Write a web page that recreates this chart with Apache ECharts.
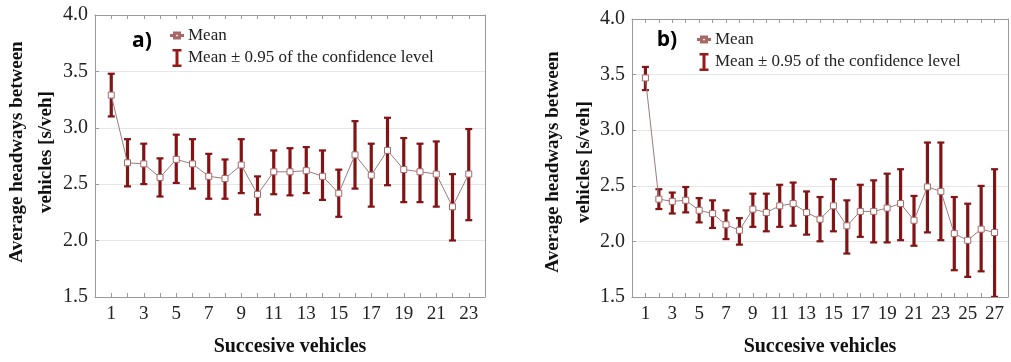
<!DOCTYPE html>
<html>
<head>
<meta charset="utf-8">
<script src="https://cdn.jsdelivr.net/npm/echarts@6/dist/echarts.min.js"></script>
<style>
html,body{margin:0;padding:0;background:#fff;}
#chart{width:1011px;height:362px;}
</style>
</head>
<body>
<div id="chart"></div>
<script>
// ---- Data ----
const vehiclesA = [1,2,3,4,5,6,7,8,9,10,11,12,13,14,15,16,17,18,19,20,21,22,23];
const meanA  = [3.29,2.69,2.68,2.56,2.72,2.68,2.57,2.55,2.67,2.41,2.61,2.61,2.62,2.57,2.42,2.76,2.58,2.80,2.63,2.61,2.59,2.30,2.59];
const upperA = [3.48,2.90,2.86,2.73,2.94,2.90,2.77,2.72,2.90,2.57,2.80,2.82,2.83,2.80,2.63,3.06,2.86,3.09,2.91,2.86,2.88,2.59,2.99];
const lowerA = [3.10,2.48,2.50,2.39,2.51,2.46,2.37,2.37,2.42,2.23,2.41,2.40,2.42,2.36,2.21,2.46,2.30,2.49,2.34,2.34,2.30,2.00,2.18];

const vehiclesB = [1,2,3,4,5,6,7,8,9,10,11,12,13,14,15,16,17,18,19,20,21,22,23,24,25,26,27];
const meanB  = [3.47,2.38,2.36,2.37,2.28,2.25,2.15,2.10,2.29,2.26,2.32,2.34,2.26,2.20,2.32,2.14,2.27,2.27,2.30,2.34,2.19,2.49,2.45,2.07,2.01,2.11,2.08];
const upperB = [3.57,2.47,2.44,2.49,2.39,2.37,2.28,2.21,2.43,2.43,2.51,2.53,2.45,2.40,2.56,2.37,2.51,2.55,2.61,2.65,2.41,2.89,2.89,2.40,2.34,2.50,2.65];
const lowerB = [3.36,2.29,2.25,2.26,2.17,2.12,2.02,1.97,2.13,2.09,2.13,2.14,2.06,2.00,2.09,1.89,2.04,1.99,1.99,2.01,1.96,2.08,2.01,1.74,1.68,1.73,1.50];

const xTickLabelsA = [1,3,5,7,9,11,13,15,17,19,21,23];
const xTickLabelsB = [1,3,5,7,9,11,13,15,17,19,21,23,25,27];
const yTickLabels = [1.5,2.0,2.5,3.0,3.5,4.0];

const titleY = 'Average headways between\nvehicles [s/veh]';
const titleX = 'Succesive vehicles';
const nameMean = 'Mean';
const nameCI = 'Mean \u00b1 0.95 of the confidence level';

// ---- Styles ----
const SERIF = 'Liberation Serif';
const AXIS_C = '#9a9a9a';
const GRID_C = '#e6e6e6';
const BAR_C = '#821416';
const LINE_C = '#9c7c7c';
const MARK_C = '#a86868';

const chart = echarts.init(document.getElementById('chart'), null, {renderer:'canvas'});

function errRender(params, api){
  const x = api.value(0), lo = api.value(1), hi = api.value(2);
  const p1 = api.coord([x, hi]);
  const p2 = api.coord([x, lo]);
  return {type:'group', children:[
    {type:'rect', shape:{x:p1[0]-1.6, y:p1[1], width:3.2, height:p2[1]-p1[1]}, style:{fill:BAR_C}},
    {type:'rect', shape:{x:p1[0]-3.5, y:p1[1]-1, width:7, height:2.2}, style:{fill:BAR_C}},
    {type:'rect', shape:{x:p2[0]-3.5, y:p2[1]-1.2, width:7, height:2.2}, style:{fill:BAR_C}}
  ]};
}

function bottomX(grid, max, ticks){
  return {
    type:'value', gridIndex:grid, min:0, max:max, interval:1, position:'bottom',
    name:titleX, nameLocation:'middle', nameGap:40,
    nameTextStyle:{fontFamily:SERIF, fontWeight:'bold', fontSize:20, color:'#111'},
    axisLine:{show:true, onZero:false, lineStyle:{color:AXIS_C, width:1}},
    axisTick:{show:true, inside:true, length:4, lineStyle:{color:AXIS_C}},
    axisLabel:{show:true, margin:8, fontFamily:SERIF, fontSize:19, color:'#222',
      showMinLabel:true, showMaxLabel:true,
      formatter:v => ticks.indexOf(v) >= 0 ? String(v) : ''},
    splitLine:{show:false}
  };
}
function topX(grid, max){
  return {
    type:'value', gridIndex:grid, min:0, max:max, interval:1, position:'top',
    axisLine:{show:true, onZero:false, lineStyle:{color:AXIS_C, width:1}},
    axisTick:{show:true, inside:true, length:4, lineStyle:{color:AXIS_C}},
    axisLabel:{show:false}, splitLine:{show:false}
  };
}
function leftY(grid){
  return {
    type:'value', gridIndex:grid, min:1.5, max:4.0, interval:0.5, position:'left',
    axisLine:{show:true, onZero:false, lineStyle:{color:AXIS_C, width:1}},
    axisTick:{show:true, inside:true, length:4, lineStyle:{color:AXIS_C}},
    axisLabel:{show:true, margin:7, fontFamily:SERIF, fontSize:20, color:'#222',
      formatter:v => yTickLabels.indexOf(v) >= 0 ? v.toFixed(1) : ''},
    splitLine:{show:true, lineStyle:{color:GRID_C, width:1}}
  };
}
function rightY(grid){
  return {
    type:'value', gridIndex:grid, min:1.5, max:4.0, interval:0.5, position:'right',
    axisLine:{show:true, onZero:false, lineStyle:{color:AXIS_C, width:1}},
    axisTick:{show:false}, axisLabel:{show:false}, splitLine:{show:false}
  };
}

const meanIcon = 'path://M0,4.4 H3 V5.6 H0 Z M3,2 H9 V8 H3 Z M4.2,3.2 V6.8 H7.8 V3.2 Z M9,4.4 H12 V5.6 H9 Z';
const errIcon  = 'path://M0,0 H9 V2.4 H6 V15.6 H9 V18 H0 V15.6 H3 V2.4 H0 Z';

function legendAt(left, top){
  return {
    left:left, top:top, orient:'vertical', itemGap:5, itemWidth:12, itemHeight:18,
    symbolKeepAspect:true, selectedMode:false,
    textStyle:{fontFamily:SERIF, fontSize:17, color:'#222'},
    data:[
      {name:nameMean, icon:meanIcon, itemStyle:{color:MARK_C}},
      {name:nameCI, icon:errIcon, itemStyle:{color:'#9a1a1c'}}
    ]
  };
}

const option = {
  animation:false,
  backgroundColor:'#fff',
  grid:[
    {left:95, top:15, width:390, height:285, containLabel:false},
    {left:632, top:19, width:385, height:282.5, containLabel:false}
  ],
  xAxis:[bottomX(0,24,xTickLabelsA), topX(0,24), bottomX(1,28,xTickLabelsB), topX(1,28)],
  yAxis:[leftY(0), rightY(0), leftY(1), rightY(1)],
  legend:[legendAt(165,22), legendAt(692,26)],
  graphic:[
    {type:'text', x:32, y:152, rotation:Math.PI/2,
      style:{text:titleY, fontFamily:SERIF, fontWeight:'bold', fontSize:19, lineHeight:29,
        fill:'#111', textAlign:'center', textVerticalAlign:'middle'}},
    {type:'text', x:569, y:162, rotation:Math.PI/2,
      style:{text:titleY, fontFamily:SERIF, fontWeight:'bold', fontSize:19, lineHeight:31,
        fill:'#111', textAlign:'center', textVerticalAlign:'middle'}},
    {type:'text', x:142, y:41,
      style:{text:'a)', fontFamily:'Open Sans', fontWeight:'bold', fontSize:21, fill:'#000',
        textAlign:'center', textVerticalAlign:'middle'}},
    {type:'text', x:667, y:40,
      style:{text:'b)', fontFamily:'Open Sans', fontWeight:'bold', fontSize:21, fill:'#000',
        textAlign:'center', textVerticalAlign:'middle'}}
  ],
  series:[
    {name:nameCI, type:'custom', xAxisIndex:0, yAxisIndex:0, z:2, renderItem:errRender,
      itemStyle:{color:BAR_C},
      data:vehiclesA.map((v,i)=>[v, lowerA[i], upperA[i]])},
    {name:nameMean, type:'line', xAxisIndex:0, yAxisIndex:0, z:3,
      symbol:'rect', symbolSize:6, showAllSymbol:true,
      lineStyle:{color:LINE_C, width:1}, itemStyle:{color:'#fff', borderColor:MARK_C, borderWidth:1},
      data:vehiclesA.map((v,i)=>[v, meanA[i]])},
    {name:nameCI, type:'custom', xAxisIndex:2, yAxisIndex:2, z:2, renderItem:errRender, clip:true,
      itemStyle:{color:BAR_C},
      data:vehiclesB.map((v,i)=>[v, lowerB[i], upperB[i]])},
    {name:nameMean, type:'line', xAxisIndex:2, yAxisIndex:2, z:3,
      symbol:'rect', symbolSize:6, showAllSymbol:true,
      lineStyle:{color:LINE_C, width:1}, itemStyle:{color:'#fff', borderColor:MARK_C, borderWidth:1},
      data:vehiclesB.map((v,i)=>[v, meanB[i]])}
  ]
};
chart.setOption(option);
</script>
</body>
</html>
